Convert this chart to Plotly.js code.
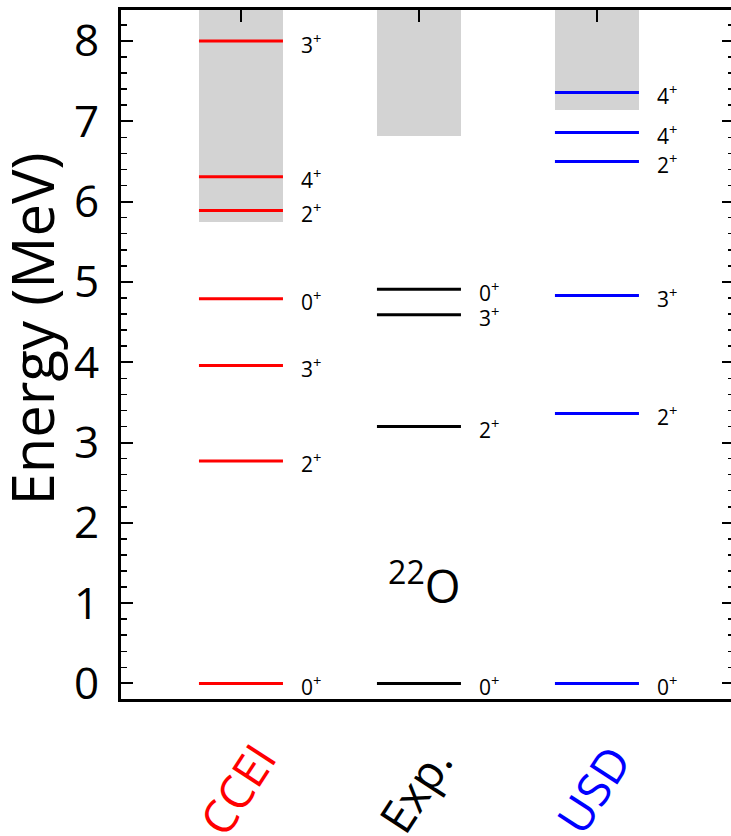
<!DOCTYPE html>
<html><head><meta charset="utf-8">
<script src="https://cdn.plot.ly/plotly-3.0.1.min.js"></script>
<style>html,body{margin:0;padding:0;overflow:hidden;background:#fff}</style>
</head><body><div id="chart" style="width:734px;height:836px"></div>
<script>
// ---- data ----
const models = ["CCEI", "Exp.", "USD"];
const modelColors = ["#ff0000", "#000000", "#0000ff"];
const modelPos = [1, 2, 3];
const cceiEnergies = [0, 2.77, 3.96, 4.79, 5.89, 6.31, 8.00];
const cceiSpins = ["0", "2", "3", "0", "2", "4", "3"];
const expEnergies = [0, 3.20, 4.59, 4.91];
const expSpins = ["0", "2", "3", "0"];
const usdEnergies = [0, 3.36, 4.83, 6.50, 6.86, 7.36];
const usdSpins = ["0", "2", "3", "2", "4", "4"];
const thresholdEnergies = [5.74, 6.82, 7.14];   // bottom of grey continuum regions
const continuumTop = 8.4;
const yTickVals = [0, 1, 2, 3, 4, 5, 6, 7, 8];
const yTitle = "Energy (MeV)";
const nucleusLabel = "<sup>22</sup>O";

// ---- style ----
const FONT = "Open Sans, Noto Sans, DejaVu Sans, sans-serif";
const halfW = 0.236;
const labelGap = 0.327;
const xRange = [0.326, 3.770];
const yRange = [-0.194, 8.386];

const levelSets = [
  {E: cceiEnergies, J: cceiSpins},
  {E: expEnergies, J: expSpins},
  {E: usdEnergies, J: usdSpins}
];

const traces = [];
traces.push({
  type: "bar", x: modelPos, base: thresholdEnergies,
  y: thresholdEnergies.map(t => continuumTop - t),
  width: 2 * halfW, marker: {color: "#d3d3d3", line: {width: 0}},
  hoverinfo: "skip", showlegend: false, xaxis: "x", yaxis: "y"
});
levelSets.forEach((s, i) => {
  const xs = [], ys = [];
  s.E.forEach(e => { xs.push(modelPos[i] - halfW, modelPos[i] + halfW, null); ys.push(e, e, null); });
  traces.push({type: "scatter", mode: "lines", x: xs, y: ys,
    line: {color: modelColors[i], width: 3}, showlegend: false, hoverinfo: "skip",
    xaxis: "x2", yaxis: "y2"});
});

const annotations = [];
levelSets.forEach((s, i) => {
  s.E.forEach((e, k) => {
    annotations.push({x: modelPos[i] + labelGap, y: e, xref: "x", yref: "y",
      text: s.J[k] + "<sup>+</sup>", showarrow: false, xanchor: "left", yanchor: "middle",
      yshift: -2, font: {family: FONT, size: 21, color: "#000"}});
  });
});
models.forEach((m, i) => {
  annotations.push({x: modelPos[i], y: -0.131, xref: "x", yref: "paper", xshift: -4,
    text: m, textangle: -57, showarrow: false, xanchor: "center", yanchor: "middle",
    font: {family: FONT, size: 46, color: modelColors[i]}});
});
annotations.push({x: 2.03, y: 1.25, xref: "x", yref: "y", text: nucleusLabel,
  showarrow: false, xanchor: "center", yanchor: "middle",
  font: {family: FONT, size: 46, color: "#000"}});
annotations.push({x: -0.146, y: 0.537, xref: "paper", yref: "paper", text: yTitle,
  textangle: -90, showarrow: false, xanchor: "center", yanchor: "middle",
  font: {family: FONT, size: 58, color: "#000"}});

const layout = {
  width: 734, height: 836,
  margin: {l: 121, r: 0, t: 10, b: 137},
  paper_bgcolor: "#fff", plot_bgcolor: "#fff",
  showlegend: false, bargap: 0,
  xaxis: {range: xRange, showgrid: false, zeroline: false, showline: true, linewidth: 3,
    linecolor: "#000", mirror: true, ticks: "", showticklabels: false, fixedrange: true},
  xaxis2: {range: xRange, overlaying: "x", side: "top", showgrid: false, zeroline: false,
    showline: false, ticks: "inside", ticklen: 12, tickwidth: 2, tickcolor: "#000",
    tickvals: modelPos, showticklabels: false},
  yaxis: {range: yRange, showgrid: false, zeroline: false, showline: true, linewidth: 3,
    linecolor: "#000", mirror: true, ticks: "inside", ticklen: 12, tickwidth: 2, tickcolor: "#000",
    tickvals: yTickVals, ticktext: yTickVals.map(String), ticklabelstandoff: 10,
    tickfont: {family: FONT, size: 44, color: "#000"},
    minor: {ticks: "inside", dtick: 0.2, ticklen: 6, tickwidth: 1.5, tickcolor: "#000", showgrid: false}},
  yaxis2: {range: yRange, overlaying: "y", side: "right", anchor: "x2", showgrid: false, zeroline: false,
    showline: false, ticks: "inside", ticklen: 12, tickwidth: 2, tickcolor: "#000",
    tickvals: yTickVals, showticklabels: false,
    minor: {ticks: "inside", dtick: 0.2, ticklen: 6, tickwidth: 1.5, tickcolor: "#000", showgrid: false}},
  annotations: annotations
};
Plotly.newPlot("chart", traces, layout, {displayModeBar: false, staticPlot: true});
</script></body></html>
